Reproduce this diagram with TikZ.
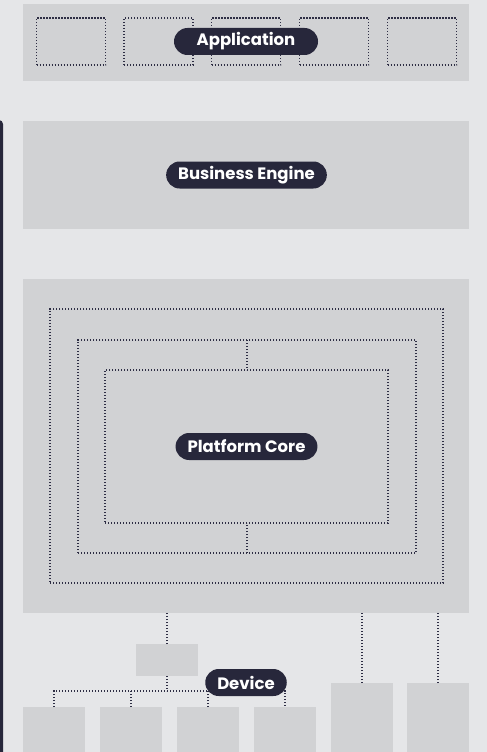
\documentclass[tikz,border=0pt]{standalone}
\usepackage{fontspec}
\setmainfont{Poppins}
\definecolor{pagebg}{HTML}{E5E6E8}
\definecolor{bandgray}{HTML}{D1D2D4}
\definecolor{navy}{HTML}{27273B}
\definecolor{dotline}{HTML}{2E2E44}
\tikzset{
  band/.style={fill=bandgray, draw=none, inner sep=0pt, outer sep=0pt},
  dotbox/.style={draw=dotline, line width=1.1pt, dash pattern=on 1.2pt off 1.8pt, inner sep=0pt, outer sep=0pt},
  dotlink/.style={draw=dotline, line width=1.1pt, dash pattern=on 1.2pt off 1.8pt},
  pill/.style={fill=navy, text=white, font=\bfseries\fontsize{16.5}{19}\selectfont,
    rounded corners=13.5pt, minimum height=27pt, inner xsep=12pt, inner ysep=0pt}
}
\begin{document}
\begin{tikzpicture}[x=1pt,y=-1pt]
  % canvas
  \useasboundingbox (0,0) rectangle (487,752);
  \clip (0,0) rectangle (487,752);
  \fill[pagebg] (0,0) rectangle (487,752);
  % side rail
  \fill[navy, rounded corners=4pt] (-10,120) rectangle (3,770);

  % application layer
  \node[band, minimum width=446pt, minimum height=77pt] (app) at (246,42.5) {};
  \foreach \cx [count=\i] in {71,158.5,246,334,422}
    \node[dotbox, minimum width=69pt, minimum height=47pt] (a\i) at (\cx,41.5) {};

  % business engine layer
  \node[band, minimum width=446pt, minimum height=108pt] (be) at (246,175) {};

  % platform core layer with nested rings
  \node[band, minimum width=446pt, minimum height=334pt] (core) at (246,446) {};
  \node[dotbox, minimum width=393pt, minimum height=274pt] (outer) at (246.5,446) {};
  \node[dotbox, minimum width=338pt, minimum height=213pt] (mid) at (247,446.5) {};
  \node[dotbox, minimum width=283pt, minimum height=153pt] (inner) at (246.5,446.5) {};
  \draw[dotlink] (mid.north) -- (mid.north |- inner.north);
  \draw[dotlink] (mid.south) -- (mid.south |- inner.south);

  % device layer
  \node[band, minimum width=62pt, minimum height=32pt] (hub) at (167,660) {};
  \foreach \cx [count=\i] in {54,131,208,285}
    \node[band, minimum width=62pt, minimum height=53pt] (d\i) at (\cx,733.5) {};
  \node[band, minimum width=62pt, minimum height=77pt] (r1) at (362,721.5) {};
  \node[band, minimum width=62pt, minimum height=77pt] (r2) at (438,721.5) {};

  \coordinate (bus) at (167,691);
  \draw[dotlink] (hub.north) -- (hub.north |- core.south);
  \draw[dotlink] (r1.north) -- (r1.north |- core.south);
  \draw[dotlink] (r2.north) -- (r2.north |- core.south);
  \draw[dotlink] (hub.south) -- (bus);
  \draw[dotlink] (d1.north) |- (bus) -| (d4.north);
  \draw[dotlink] (d2.north) -- (d2.north |- bus);
  \draw[dotlink] (d3.north) -- (d3.north |- bus);

  % layer labels
  \node[pill, minimum width=144pt] (lapp) at (246,41.5) {Application};
  \node[pill] (lbe) at (246.5,175) {Business Engine};
  \node[pill] (lcore) at (246.5,446.5) {Platform Core};
  \node[pill] (ldev) at (246,682.5) {Device};
\end{tikzpicture}
\end{document}
